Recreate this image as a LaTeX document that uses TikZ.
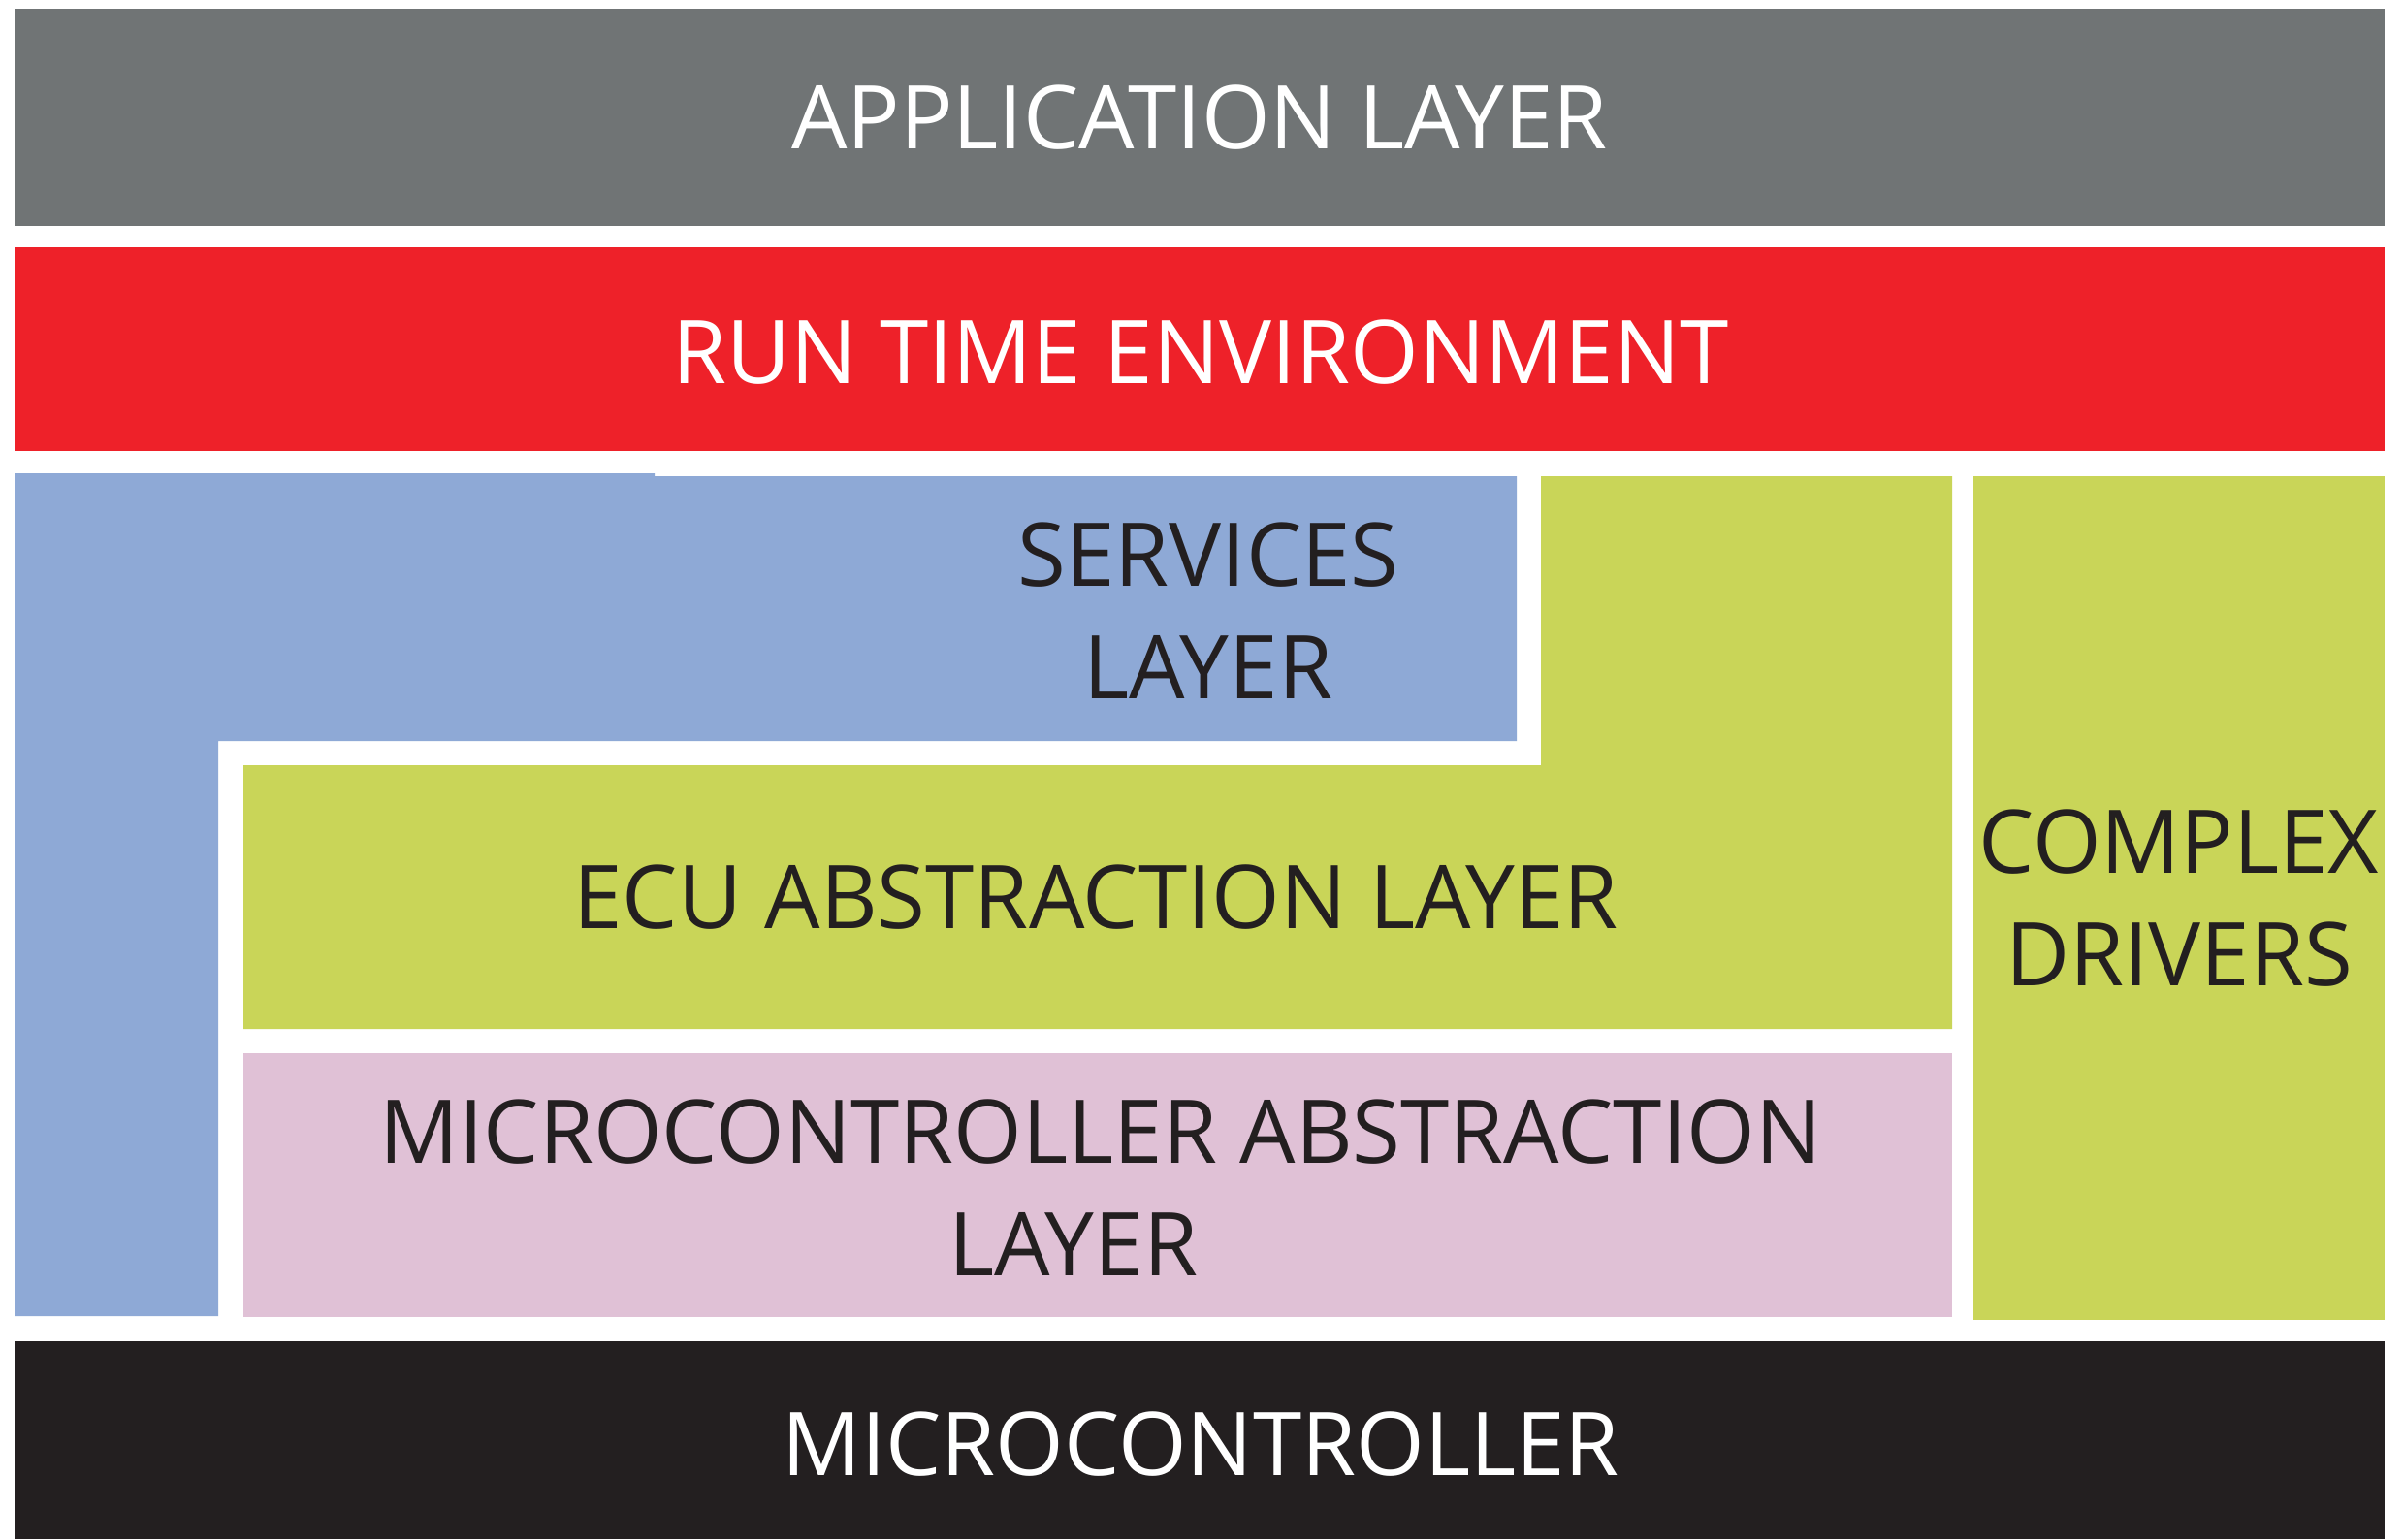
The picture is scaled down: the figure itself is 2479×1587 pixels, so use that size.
\documentclass[tikz,border=0pt]{standalone}
\usepackage{fontspec}
\setmainfont{Open Sans}
\definecolor{appgray}{HTML}{707475}
\definecolor{rtered}{HTML}{EE2129}
\definecolor{svcblue}{HTML}{8EA9D6}
\definecolor{ecugreen}{HTML}{C9D558}
\definecolor{mcalpink}{HTML}{E0C1D6}
\definecolor{mcblack}{HTML}{231F20}
\begin{document}
\begin{tikzpicture}[x={(0.01cm,0)},y={(0,-0.01cm)},
  lbl/.style={inner sep=0pt,font=\fontsize{25.8}{33}\selectfont,align=center},
  lightlbl/.style={lbl,text=white},
  darklbl/.style={lbl,text=mcblack}]
\useasboundingbox[fill=white] (0,0) rectangle (2479,1587);
% layers
\fill[appgray] (15,9) rectangle (2459,233);
\fill[rtered] (15,255) rectangle (2459,465);
\fill[svcblue] (15,488) -- (675,488) -- (675,491) -- (1564,491) -- (1564,764)
  -- (225,764) -- (225,1357) -- (15,1357) -- cycle;
\fill[ecugreen] (1589,491) -- (2013,491) -- (2013,1061) -- (251,1061)
  -- (251,789) -- (1589,789) -- cycle;
\fill[mcalpink] (251,1086) rectangle (2013,1358);
\fill[ecugreen] (2035,491) rectangle (2459,1361);
\fill[mcblack] (15,1383) rectangle (2459,1587);
% labels
\node[lightlbl] (app) at (1237,121) {APPLICATION LAYER};
\node[lightlbl] (rte) at (1238,363) {RUN TIME ENVIRONMENT};
\node[darklbl] (svc) at (1246,630) {SERVICES\\LAYER};
\node[darklbl] (ecu) at (1130,925) {ECU ABSTRACTION LAYER};
\node[darklbl] (mcal) at (1135,1225) {MICROCONTROLLER ABSTRACTION\\\hspace*{-0.56cm}LAYER};
\node[darklbl] (cdd) at (2247,926) {COMPLEX\\DRIVERS};
\node[lightlbl] (mc) at (1238,1489) {MICROCONTROLLER};
\end{tikzpicture}
\end{document}
